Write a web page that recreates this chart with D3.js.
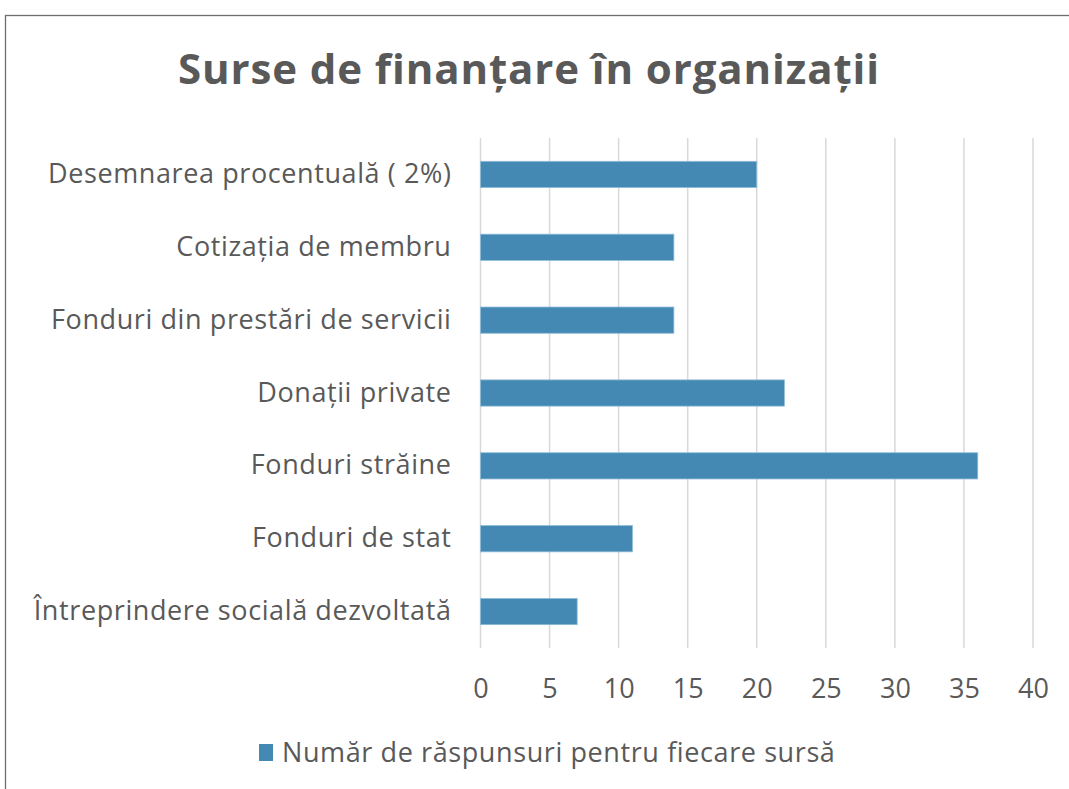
<!DOCTYPE html>
<html>
<head>
<meta charset="utf-8">
<script src="https://cdn.jsdelivr.net/npm/d3@7"></script>
<style>
  body { margin: 0; background: #fff; }
  text { font-family: "Open Sans", "Noto Sans", sans-serif; fill: #595959; }
</style>
</head>
<body>
<div id="chart"></div>
<script>
// Data
const categories = [
    "Desemnarea procentuală ( 2%)",
    "Cotizația de membru",
    "Fonduri din prestări de servicii",
    "Donații private",
    "Fonduri străine",
    "Fonduri de stat",
    "Întreprindere socială dezvoltată"
];
const values = [20, 14, 14, 22, 36, 11, 7];
const xTicks = [0, 5, 10, 15, 20, 25, 30, 35, 40];
const seriesName = "Număr de răspunsuri pentru fiecare sursă";
const chartTitle = "Surse de finanțare în organizații";

const width = 1069, height = 789;
const plot = { left: 480.5, right: 1033, top: 138, bottom: 648 };
const barColor = "#4389b4";

const svg = d3.select("#chart")
    .append("svg")
    .attr("width", width)
    .attr("height", height);

// chart frame (runs off the right and bottom edges)
svg.append("rect")
    .attr("x", 5.5)
    .attr("y", 15.5)
    .attr("width", width + 20)
    .attr("height", height + 20)
    .attr("fill", "#fff")
    .attr("stroke", "#6e6e6e")
    .attr("stroke-width", 1.3);

// title
svg.append("text")
    .attr("x", 529)
    .attr("y", 84)
    .attr("text-anchor", "middle")
    .style("font-size", "42px")
    .style("font-weight", "bold")
    .style("letter-spacing", "0.9px")
    .text(chartTitle);

// Scales
const x = d3.scaleLinear()
    .domain([0, 40])
    .range([plot.left, plot.right]);

const y = d3.scaleBand()
    .domain(categories)
    .range([plot.top, plot.bottom])
    .paddingInner(0.64)
    .paddingOuter(0.32);

// gridlines
svg.append("g")
    .selectAll("line")
    .data(xTicks)
    .enter()
    .append("line")
    .attr("x1", d => x(d))
    .attr("x2", d => x(d))
    .attr("y1", plot.top)
    .attr("y2", plot.bottom)
    .attr("stroke", "#d9d9d9")
    .attr("stroke-width", 1.5);

// bars
svg.append("g")
    .selectAll("rect")
    .data(values)
    .enter()
    .append("rect")
    .attr("x", x(0))
    .attr("y", (d, i) => y(categories[i]))
    .attr("width", d => x(d) - x(0))
    .attr("height", y.bandwidth())
    .attr("fill", barColor)
    .attr("stroke", "#8fbcd8")
    .attr("stroke-width", 0.8);

// x axis labels
const xAxis = d3.axisBottom(x)
    .tickValues(xTicks)
    .tickSize(0)
    .tickPadding(0);

const xg = svg.append("g")
    .attr("transform", `translate(0,${plot.bottom + 50})`)
    .call(xAxis);
xg.select(".domain").remove();
xg.selectAll("text")
    .attr("y", 0)
    .attr("dy", 0)
    .style("font-size", "27px")
    .style("font-family", "'Open Sans', 'Noto Sans', sans-serif")
    .attr("fill", "#595959");

// y axis labels
const yAxis = d3.axisLeft(y)
    .tickSize(0)
    .tickPadding(0);

const yg = svg.append("g")
    .attr("transform", `translate(${plot.left - 29},0)`)
    .call(yAxis);
yg.select(".domain").remove();
yg.selectAll("text")
    .style("font-size", "27px")
    .style("letter-spacing", "0.6px")
    .style("font-family", "'Open Sans', 'Noto Sans', sans-serif")
    .attr("fill", "#595959");

// legend
const legend = svg.append("g");
legend.append("rect")
    .attr("x", 259)
    .attr("y", 744)
    .attr("width", 14)
    .attr("height", 17)
    .attr("fill", barColor);
legend.append("text")
    .attr("x", 282)
    .attr("y", 753)
    .attr("dy", "0.35em")
    .style("font-size", "27px")
    .style("letter-spacing", "0.6px")
    .text(seriesName);
</script>
</body>
</html>
